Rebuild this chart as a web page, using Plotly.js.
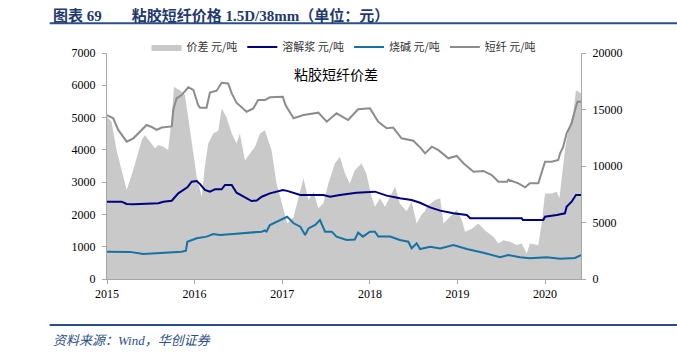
<!DOCTYPE html>
<html>
<head>
<meta charset="utf-8">
<script src="https://cdn.plot.ly/plotly-3.0.1.min.js"></script>
<style>
html,body{margin:0;padding:0;background:#fff;}
#chart{width:677px;height:358px;}
</style>
</head>
<body>
<div id="chart"></div>
<script>
// 价差 (left axis, 元/吨)
const spreadDates = ["2015-01-01","2015-01-20","2015-02-10","2015-03-03","2015-03-24","2015-04-14","2015-05-05","2015-05-26","2015-06-08","2015-06-29","2015-07-20","2015-08-03","2015-08-24","2015-09-13","2015-09-28","2015-10-07","2015-11-01","2015-11-22","2015-12-06","2015-12-20","2016-01-10","2016-01-31","2016-02-13","2016-02-27","2016-03-19","2016-04-09","2016-04-23","2016-05-13","2016-06-04","2016-06-24","2016-07-08","2016-07-29","2016-08-19","2016-09-09","2016-09-30","2016-10-20","2016-11-17","2016-12-08","2017-01-03","2017-01-21","2017-02-17","2017-03-10","2017-03-30","2017-04-20","2017-05-11","2017-05-31","2017-06-21","2017-07-12","2017-08-08","2017-08-29","2017-09-19","2017-10-09","2017-10-30","2017-11-27","2017-12-17","2018-01-08","2018-01-22","2018-02-12","2018-03-05","2018-03-26","2018-04-16","2018-05-06","2018-06-03","2018-06-24","2018-07-15","2018-08-05","2018-08-19","2018-08-26","2018-09-30","2018-10-21","2018-11-04","2018-12-01","2018-12-29","2019-01-19","2019-02-02","2019-03-02","2019-03-29","2019-04-26","2019-05-31","2019-06-21","2019-07-11","2019-08-08","2019-09-05","2019-09-26","2019-10-17","2019-10-30","2019-12-04","2019-12-18","2020-01-01","2020-01-29","2020-02-19","2020-03-01","2020-03-11","2020-03-24","2020-04-07","2020-04-28","2020-05-09","2020-05-30"];
const spreadValues = [5020,4870,3990,3370,2760,3220,3790,4300,4460,4250,4050,4150,4100,3990,5020,5950,5850,5700,5020,4200,3170,2550,3500,4200,4510,4600,5280,5020,4510,4200,4510,3680,3890,4100,4510,4610,3990,2960,2240,1720,1930,2550,3120,2450,2700,2190,2350,2960,3580,3790,3270,2960,3370,3580,3270,2550,2240,2500,2240,2550,2860,2340,2100,2390,1720,2000,2100,2240,2450,2500,1720,1930,2140,1830,1460,1560,1720,1500,1310,1100,1200,1150,1050,1100,790,1100,1050,1720,2650,2650,2700,2500,3170,3990,4610,5130,5850,5750];

// 溶解浆 (right axis, 元/吨)
const pulpDates = ["2015-01-01","2015-03-03","2015-03-24","2015-04-21","2015-08-03","2015-08-24","2015-09-28","2015-10-25","2015-12-02","2015-12-20","2016-01-10","2016-01-24","2016-02-13","2016-03-05","2016-03-26","2016-04-23","2016-05-07","2016-06-04","2016-06-24","2016-07-22","2016-08-26","2016-09-16","2016-10-07","2016-11-10","2017-01-03","2017-01-21","2017-03-17","2017-06-21","2017-07-19","2017-08-29","2017-11-06","2018-01-22","2018-03-12","2018-05-06","2018-06-24","2018-07-29","2018-09-09","2018-10-21","2018-12-15","2019-02-09","2019-02-23","2019-09-26","2019-10-01","2019-12-25","2020-01-01","2020-02-19","2020-03-24","2020-03-31","2020-04-21","2020-05-09","2020-05-30"];
const pulpValues = [6840,6840,6640,6620,6700,6840,6930,7580,8110,8610,8670,8400,7880,7730,7940,7940,8320,8320,7640,7280,6900,6950,7280,7580,7880,7800,7430,7430,7280,7430,7640,7730,7380,7140,6990,6750,6340,6050,5810,5660,5370,5370,5220,5220,5510,5660,5810,6400,6840,7430,7430];

// 烧碱 (right axis, 元/吨)
const sodaDates = ["2015-01-01","2015-04-07","2015-06-01","2015-09-07","2015-11-08","2015-11-26","2015-12-02","2016-01-10","2016-02-20","2016-03-19","2016-04-16","2016-06-10","2016-08-19","2016-10-07","2016-10-20","2016-10-27","2016-11-10","2016-12-22","2017-01-21","2017-02-17","2017-03-17","2017-04-06","2017-04-20","2017-05-18","2017-06-07","2017-06-28","2017-07-26","2017-08-15","2017-09-26","2017-10-30","2017-11-13","2017-12-03","2018-01-01","2018-01-22","2018-02-05","2018-03-26","2018-05-06","2018-06-10","2018-06-24","2018-07-15","2018-07-29","2018-09-09","2018-10-21","2018-12-15","2019-02-09","2019-04-19","2019-06-28","2019-08-01","2019-09-19","2019-10-30","2020-01-08","2020-03-04","2020-05-05","2020-05-30"];
const sodaValues = [2420,2400,2210,2330,2420,2500,3300,3600,3750,3980,3900,3980,4100,4190,4300,4200,4780,5220,5510,4930,4630,3890,4480,4780,5220,4190,4190,3750,3450,3500,4100,3750,4190,4190,3750,3750,3450,3300,2720,3160,2650,2860,2700,3010,2650,2330,1920,2120,1920,1830,1920,1800,1860,2120];

// 短纤 (right axis, 元/吨)
const fiberDates = ["2015-01-01","2015-01-27","2015-02-17","2015-03-24","2015-04-21","2015-05-26","2015-06-15","2015-07-06","2015-07-27","2015-08-17","2015-09-07","2015-09-28","2015-10-04","2015-10-18","2015-11-08","2015-12-06","2015-12-27","2016-01-16","2016-01-24","2016-02-20","2016-03-05","2016-04-02","2016-04-23","2016-05-20","2016-06-04","2016-06-24","2016-08-05","2016-09-02","2016-09-22","2016-10-20","2016-11-10","2017-01-03","2017-01-14","2017-02-17","2017-03-30","2017-05-31","2017-07-05","2017-08-15","2017-10-02","2017-11-13","2018-01-01","2018-02-05","2018-03-12","2018-04-08","2018-05-13","2018-07-01","2018-07-29","2018-08-19","2018-09-16","2018-10-14","2018-11-24","2018-12-29","2019-01-26","2019-03-09","2019-04-19","2019-05-24","2019-06-21","2019-07-26","2019-08-01","2019-09-12","2019-10-10","2019-10-30","2019-12-04","2019-12-18","2020-01-01","2020-01-29","2020-02-25","2020-03-04","2020-03-17","2020-03-31","2020-04-21","2020-05-05","2020-05-15","2020-05-30"];
const fiberValues = [14510,14220,13190,12150,12450,13190,13630,13450,13190,13400,13480,13500,14960,15990,16280,16960,16730,15400,15160,15160,16490,16660,17370,17300,16430,15600,14800,15100,15840,15840,16080,16130,15400,14220,14510,14720,13920,14660,14070,15020,15100,13920,13340,13400,12450,12240,11650,11120,11710,11400,10680,10890,10240,9500,9560,9200,8610,8610,8780,8470,8110,8470,8470,9350,10380,10380,10530,11120,11710,12890,13780,14960,15690,15690];

const seriesNames = ["价差 元/吨","溶解浆 元/吨","烧碱 元/吨","短纤 元/吨"];
const yearTicks = ["2015-01-01","2016-01-01","2017-01-01","2018-01-01","2019-01-01","2020-01-01"];
const yearLabels = ["2015","2016","2017","2018","2019","2020"];
const leftTicks = [0,1000,2000,3000,4000,5000,6000,7000];
const rightTicks = [0,5000,10000,15000,20000];

const serif = '"Liberation Serif","Times New Roman",serif';
const cjk = '"Noto Sans CJK SC","Noto Sans",sans-serif';

const traces = [
  {x: spreadDates, y: spreadValues, name: seriesNames[0], type: 'scatter', mode: 'lines',
   fill: 'tozeroy', fillcolor: '#c9c9c9', line: {width: 0, color: '#c9c9c9'}, yaxis: 'y'},
  {x: pulpDates, y: pulpValues, name: seriesNames[1], type: 'scatter', mode: 'lines',
   line: {color: '#000080', width: 2}, yaxis: 'y2'},
  {x: sodaDates, y: sodaValues, name: seriesNames[2], type: 'scatter', mode: 'lines',
   line: {color: '#1672a4', width: 2}, yaxis: 'y2'},
  {x: fiberDates, y: fiberValues, name: seriesNames[3], type: 'scatter', mode: 'lines',
   line: {color: '#8c8c8c', width: 2}, yaxis: 'y2'}
];

const axisCommon = {
  showline: true, linecolor: '#a6a6a6', linewidth: 1,
  ticks: 'outside', ticklen: 4, tickcolor: '#a6a6a6',
  showgrid: false, zeroline: false,
  tickfont: {family: serif, size: 12, color: '#000'}
};

const layout = {
  width: 677, height: 358,
  margin: {l: 107, r: 96, t: 53, b: 79},
  paper_bgcolor: '#fff', plot_bgcolor: '#fff',
  showlegend: true,
  legend: {orientation: 'h', x: 0.5, xanchor: 'center', y: 1.027, yanchor: 'middle',
    font: {family: cjk, size: 11, color: '#333'}, itemwidth: 30, tracegroupgap: 0,
    bgcolor: 'rgba(0,0,0,0)'},
  xaxis: Object.assign({}, axisCommon, {
    type: 'date', range: ['2015-01-01', '2020-05-30'],
    tickvals: yearTicks, ticktext: yearLabels
  }),
  yaxis: Object.assign({}, axisCommon, {
    range: [0, 7000], tickvals: leftTicks, tickformat: 'd', ticklabelstandoff: 4
  }),
  yaxis2: Object.assign({}, axisCommon, {
    range: [0, 20000], overlaying: 'y', side: 'right',
    tickvals: rightTicks, tickformat: 'd', ticklabelstandoff: 4
  }),
  annotations: [
    {xref: 'paper', yref: 'paper', x: 0.483, y: 0.907, xanchor: 'center', yanchor: 'middle',
     text: '粘胶短纤价差', showarrow: false, font: {family: cjk, size: 14, color: '#000'}},
    {xref: 'paper', yref: 'paper', x: -0.118, y: 1.168, xanchor: 'left', yanchor: 'middle',
     text: '<b>图表 69　　粘胶短纤价格 1.5D/38mm（单位：元）</b>', showarrow: false,
     font: {family: serif + ',"Noto Sans CJK SC"', size: 15, color: '#1f3a6e'}},
    {xref: 'paper', yref: 'paper', x: -0.118, y: -0.27, xanchor: 'left', yanchor: 'middle',
     text: '<i>资料来源：Wind，华创证券</i>', showarrow: false,
     font: {family: serif + ',"Noto Sans CJK SC"', size: 13, color: '#2b4f8a'}}
  ],
  shapes: [
    {type: 'line', xref: 'paper', yref: 'paper', x0: -0.121, x1: 1.203, y0: 1.132, y1: 1.132,
     line: {color: '#2b4f8a', width: 2}},
    {type: 'line', xref: 'paper', yref: 'paper', x0: -0.121, x1: 1.203, y0: -0.204, y1: -0.204,
     line: {color: '#2b4f8a', width: 2}}
  ]
};

Plotly.newPlot('chart', traces, layout, {displayModeBar: false, staticPlot: true});
</script>
</body>
</html>
